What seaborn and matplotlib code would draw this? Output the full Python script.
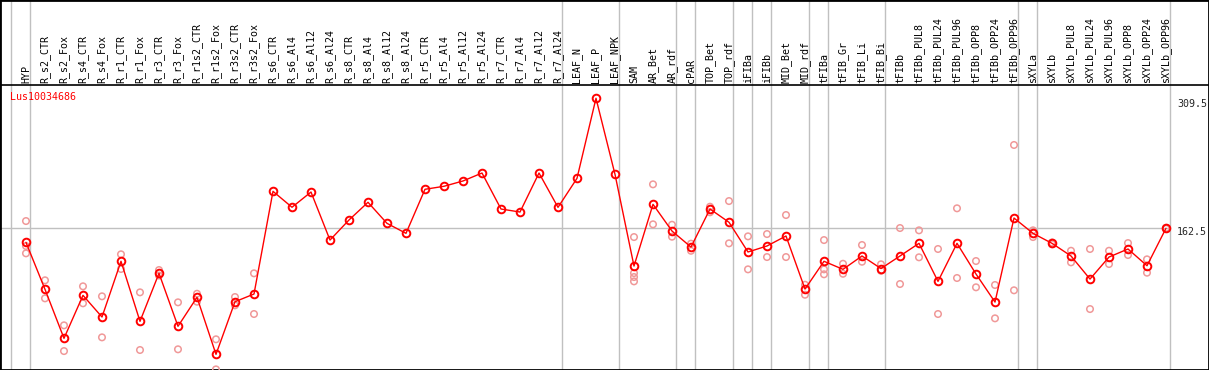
import numpy as np
import pandas as pd
import matplotlib
matplotlib.use('Agg')
import matplotlib.pyplot as plt
import seaborn as sns

samples = ['HYP', 'R_s2_CTR', 'R_s2_Fox', 'R_s4_CTR', 'R_s4_Fox', 'R_r1_CTR', 'R_r1_Fox',
           'R_r3_CTR', 'R_r3_Fox', 'R_r1s2_CTR', 'R_r1s2_Fox', 'R_r3s2_CTR', 'R_r3s2_Fox',
           'R_s6_CTR', 'R_s6_Al4', 'R_s6_Al12', 'R_s6_Al24', 'R_s8_CTR', 'R_s8_Al4',
           'R_s8_Al12', 'R_s8_Al24', 'R_r5_CTR', 'R_r5_Al4', 'R_r5_Al12', 'R_r5_Al24',
           'R_r7_CTR', 'R_r7_Al4', 'R_r7_Al12', 'R_r7_Al24', 'LEAF_N', 'LEAF_P', 'LEAF_NPK',
           'SAM', 'AR_Bet', 'AR_rdf', 'cPAR', 'TOP_Bet', 'TOP_rdf', 'iFIBa', 'iFIBb',
           'MID_Bet', 'MID_rdf', 'tFIBa', 'tFIB_Gr', 'tFIB_Li', 'tFIB_Bi', 'tFIBb',
           'tFIBb_PUL8', 'tFIBb_PUL24', 'tFIBb_PUL96', 'tFIBb_OPP8', 'tFIBb_OPP24', 'tFIBb_OPP96',
           'sXYLa', 'sXYLb', 'sXYLb_PUL8', 'sXYLb_PUL24', 'sXYLb_PUL96', 'sXYLb_OPP8',
           'sXYLb_OPP24', 'sXYLb_OPP96']

# mean expression per sample
means = [146.6, 93.5, 38.1, 86.7, 62.2, 125.2, 57.3, 111.6, 51.7, 84.5, 20.0, 79.5, 88.2,
         204.3, 186.3, 203.5, 149.2, 171.9, 191.9, 168.1, 156.8, 206.6, 210.0, 216.0, 225.0,
         184.3, 180.9, 225.0, 186.2, 219.0, 309.5, 223.5,
         119.8, 189.6, 159.4, 141.3, 184.3, 169.3, 135.7, 142.5, 153.8, 93.8,
         125.2, 116.1, 131.2, 117.0, 131.2, 145.5, 102.5, 145.5, 110.8, 79.1, 174.1,
         156.8, 145.5, 131.2, 105.1, 130.0, 139.1, 120.2, 162.5]

# individual replicates (sample name, value)
rep_samples = ['HYP', 'HYP', 'HYP', 'R_s2_CTR', 'R_s2_CTR', 'R_s2_Fox', 'R_s2_Fox',
               'R_s4_CTR', 'R_s4_CTR', 'R_s4_Fox', 'R_s4_Fox', 'R_r1_CTR', 'R_r1_CTR',
               'R_r1_Fox', 'R_r1_Fox', 'R_r3_CTR', 'R_r3_CTR', 'R_r3_Fox', 'R_r3_Fox',
               'R_r1s2_CTR', 'R_r1s2_CTR', 'R_r1s2_Fox', 'R_r1s2_Fox',
               'R_r3s2_CTR', 'R_r3s2_CTR', 'R_r3s2_Fox', 'R_r3s2_Fox',
               'SAM', 'SAM', 'SAM', 'SAM', 'AR_Bet', 'AR_Bet', 'AR_rdf', 'AR_rdf',
               'cPAR', 'cPAR', 'TOP_Bet', 'TOP_Bet', 'TOP_rdf', 'TOP_rdf',
               'iFIBa', 'iFIBa', 'iFIBb', 'iFIBb', 'MID_Bet', 'MID_Bet', 'MID_rdf', 'MID_rdf',
               'tFIBa', 'tFIBa', 'tFIBa', 'tFIB_Gr', 'tFIB_Gr', 'tFIB_Li', 'tFIB_Li',
               'tFIB_Bi', 'tFIB_Bi', 'tFIBb', 'tFIBb', 'tFIBb_PUL8', 'tFIBb_PUL8',
               'tFIBb_PUL24', 'tFIBb_PUL24', 'tFIBb_PUL96', 'tFIBb_PUL96',
               'tFIBb_OPP8', 'tFIBb_OPP8', 'tFIBb_OPP24', 'tFIBb_OPP24',
               'tFIBb_OPP96', 'tFIBb_OPP96', 'sXYLa', 'sXYLa', 'sXYLb', 'sXYLb',
               'sXYLb_PUL8', 'sXYLb_PUL8', 'sXYLb_PUL24', 'sXYLb_PUL24',
               'sXYLb_PUL96', 'sXYLb_PUL96', 'sXYLb_OPP8', 'sXYLb_OPP8',
               'sXYLb_OPP24', 'sXYLb_OPP24', 'sXYLb_OPP96', 'sXYLb_OPP96']
rep_values = [170.7, 142.5, 134.2, 103.7, 83.3, 52.8, 23.7,
              96.9, 77.7, 85.6, 39.2, 133.1, 116.5,
              90.1, 24.9, 115.3, 109.1, 78.8, 25.7,
              88.5, 79.5, 37.0, 3.0,
              84.8, 75.4, 111.6, 65.6,
              152.6, 111.9, 107.4, 102.5, 212.2, 167.0, 166.5, 153.0,
              145.1, 137.1, 186.9, 180.6, 193.3, 145.5,
              153.4, 116.1, 156.0, 130.0, 177.5, 130.0, 98.7, 87.4,
              149.2, 116.1, 110.5, 122.4, 111.1, 143.6, 124.7,
              121.8, 114.5, 162.8, 99.5, 160.2, 129.7,
              139.1, 65.6, 185.1, 106.3,
              125.5, 95.8, 98.4, 60.7,
              256.7, 92.4, 160.2, 152.6, 146.5, 144.5,
              137.1, 124.0, 139.1, 71.2,
              137.1, 122.1, 145.8, 132.3,
              127.4, 112.3, 163.0, 162.0]

# group separators come right after these samples
group_ends = ['HYP', 'R_r7_Al24', 'LEAF_NPK', 'AR_rdf', 'cPAR', 'TOP_rdf', 'iFIBa', 'iFIBb',
              'MID_rdf', 'tFIBa', 'tFIB_Bi', 'tFIBb_OPP96', 'sXYLa', 'sXYLb_OPP96']

gene = 'Lus10034686'
y_ticks = [309.5, 162.5, 0]

pos = {s: i for i, s in enumerate(samples)}
df = pd.DataFrame({'x': range(len(samples)), 'value': means})
reps = pd.DataFrame({'x': [pos[s] for s in rep_samples], 'value': rep_values})

sns.set_style('white')
plt.rcParams['font.family'] = ['DejaVu Sans Mono']

fig = plt.figure(figsize=(12.09, 3.70), dpi=100)
ax = fig.add_axes([0, 0, 1, 1])

off = 4 / 19
ax.axvline(-1 + off, color='#c0c0c0', lw=1, zorder=1)
for g in group_ends:
    ax.axvline(pos[g] + off, color='#c0c0c0', lw=1, zorder=1)
ax.plot([-1.4, 60 + off], [162.5, 162.5], color='#c0c0c0', lw=1, zorder=1)
ax.axhline(324.5, color='black', lw=1.2, zorder=2)

sns.scatterplot(data=reps, x='x', y='value', ax=ax, marker='o', s=22,
                facecolors='none', edgecolor='#f09898', linewidth=1.1, zorder=3)
sns.lineplot(data=df, x='x', y='value', ax=ax, color='red', lw=1, zorder=4,
             marker='o', markersize=5.5, markerfacecolor='none',
             markeredgecolor='red', markeredgewidth=1.4)

for i, s in enumerate(samples):
    ax.text(i, 326.5, s, rotation=90, ha='center', va='bottom', fontsize=7.2, color='black')

ax.text(-0.86, 311, gene, color='red', fontsize=7.2, ha='left', va='center')

ax.annotate(f'{y_ticks[0]}', xy=(62.15, y_ticks[0]), xytext=(0, -6), textcoords='offset pixels',
            ha='right', va='center', fontsize=7.2)
ax.annotate(f'{y_ticks[1]}', xy=(62.15, y_ticks[1]), xytext=(0, -4), textcoords='offset pixels',
            ha='right', va='center', fontsize=7.2)
ax.annotate(f'{y_ticks[2]}', xy=(62.0, y_ticks[2]), xytext=(0, 10), textcoords='offset pixels',
            ha='right', va='center', fontsize=7.2)

ax.set_xlim(-1.368, 62.263)
ax.set_ylim(2.3, 420.6)
ax.set_xticks([])
ax.set_yticks([])
ax.set_xlabel('')
ax.set_ylabel('')
for sp in ax.spines.values():
    sp.set_color('black')
    sp.set_linewidth(2)

fig.savefig('out.png', dpi=100)
